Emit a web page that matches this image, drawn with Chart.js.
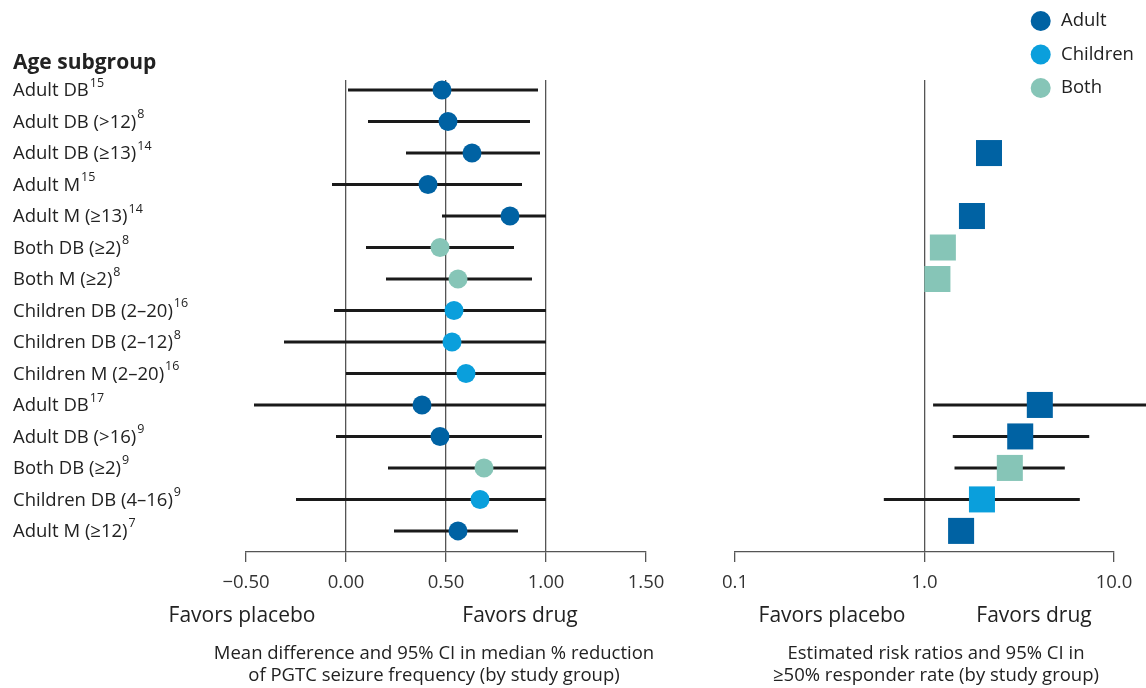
<!DOCTYPE html>
<html>
<head>
<meta charset="utf-8">
<script src="https://cdn.jsdelivr.net/npm/chart.js@4"></script>
<style>
  body { margin: 0; background: #fff; }
  #wrap { position: relative; width: 1146px; height: 688px; }
  canvas { position: absolute; top: 0; }
  #left { left: 0; }
  #right { left: 700px; }
</style>
</head>
<body>
<div id="wrap">
  <canvas id="left" width="700" height="688"></canvas>
  <canvas id="right" width="446" height="688"></canvas>
</div>
<script>
// study rows, top to bottom
const rowLabels = ['Adult DB', 'Adult DB (>12)', 'Adult DB (\u226513)', 'Adult M', 'Adult M (\u226513)',
  'Both DB (\u22652)', 'Both M (\u22652)', 'Children DB (2\u201320)', 'Children DB (2\u201312)', 'Children M (2\u201320)',
  'Adult DB', 'Adult DB (>16)', 'Both DB (\u22652)', 'Children DB (4\u201316)', 'Adult M (\u226512)'];
const rowRefs = ['15', '8', '14', '15', '14', '8', '8', '16', '8', '16', '17', '9', '9', '9', '7'];
const rowGroups = ['Adult', 'Adult', 'Adult', 'Adult', 'Adult', 'Both', 'Both', 'Children', 'Children', 'Children',
  'Adult', 'Adult', 'Both', 'Children', 'Adult'];

// mean difference in median % reduction
const mdPoint = [0.48, 0.51, 0.63, 0.41, 0.82, 0.47, 0.56, 0.54, 0.53, 0.60, 0.38, 0.47, 0.69, 0.67, 0.56];
const mdLow   = [0.01, 0.11, 0.30, -0.07, 0.48, 0.10, 0.20, -0.06, -0.31, 0.00, -0.46, -0.05, 0.21, -0.25, 0.24];
const mdHigh  = [0.96, 0.92, 0.97, 0.88, 1.00, 0.84, 0.93, 1.00, 1.00, 1.00, 1.00, 0.98, 1.00, 1.00, 0.86];
const mdTicks = [-0.5, 0, 0.5, 1, 1.5];

// risk ratio, >=50% responder rate
const rrPoint = [null, null, 2.19, null, 1.78, 1.25, 1.17, null, null, null, 4.06, 3.20, 2.82, 2.01, 1.56];
const rrLow   = [null, null, null, null, null, null, null, null, null, null, 1.11, 1.41, 1.44, 0.61, null];
const rrHigh  = [null, null, null, null, null, null, null, null, null, null, 15, 7.4, 5.5, 6.6, null];
const rrTicks = [0.1, 1, 10];

const groupNames = ['Adult', 'Children', 'Both'];
const groupColors = { Adult: '#0062a3', Children: '#0a9fdc', Both: '#86c5b7' };

Chart.defaults.font.family = '"Open Sans", sans-serif';
Chart.defaults.color = '#333';

const yScale = { type: 'linear', reverse: true, min: 0.68, max: 15.67, display: false };

function ciSets(low, high) {
  const sets = [];
  low.forEach((lo, i) => {
    if (lo === null) return;
    sets.push({
      data: [{ x: lo, y: i + 1 }, { x: high[i], y: i + 1 }],
      showLine: true, borderColor: '#1a1a1a', borderWidth: 3,
      pointRadius: 0, order: 2, clip: false
    });
  });
  return sets;
}

function textPlugin(draw) {
  return { id: 'texts', afterDraw(chart) { const c = chart.ctx; c.save(); draw(c, chart); c.restore(); } };
}

// left panel
new Chart(document.getElementById('left'), {
  type: 'scatter',
  data: {
    datasets: [{
      data: mdPoint.map((v, i) => ({ x: v, y: i + 1 })),
      backgroundColor: rowGroups.map(g => groupColors[g]),
      pointRadius: 9.5, borderWidth: 0, order: 1
    }].concat(ciSets(mdLow, mdHigh))
  },
  options: {
    responsive: false, animation: false,
    layout: { padding: { left: 246, right: 54, top: 80, bottom: 96 } },
    plugins: { legend: { display: false }, tooltip: { enabled: false } },
    scales: {
      y: yScale,
      x: {
        type: 'linear', min: -0.5, max: 1.5,
        afterBuildTicks: axis => { axis.ticks = mdTicks.map(v => ({ value: v })); },
        afterFit: axis => { axis.height = 40; },
        grid: {
          color: ctx => (ctx.tick && ctx.tick.value > -0.5 && ctx.tick.value < 1.5) ? '#555' : 'rgba(0,0,0,0)',
          tickColor: '#555', tickLength: 10, lineWidth: 1.3
        },
        border: { display: true, color: '#555', width: 1.3 },
        ticks: {
          padding: 10, font: { size: 18.5 }, color: '#333',
          callback: v => v < 0 ? '\u2212' + Math.abs(v).toFixed(2) : v.toFixed(2)
        }
      }
    }
  },
  plugins: [textPlugin((c, chart) => {
    const ys = chart.scales.y;
    c.fillStyle = '#222';
    c.textBaseline = 'middle';
    c.textAlign = 'left';
    c.font = 'bold 21px "Open Sans"';
    c.fillText('Age subgroup', 13, 63);
    rowLabels.forEach((lab, i) => {
      const y = ys.getPixelForValue(i + 1) + 1;
      c.font = '18.5px "Open Sans"';
      c.fillText(lab, 13, y);
      const w = c.measureText(lab).width;
      c.font = '12.5px "Open Sans"';
      c.fillText(rowRefs[i], 13 + w + 1, y - 8);
    });
    c.textAlign = 'center';
    c.font = '21px "Open Sans"';
    c.fillText('Favors placebo', 242, 616);
    c.fillText('Favors drug', 520, 616);
    c.font = '18.5px "Open Sans"';
    c.fillText('Mean difference and 95% CI in median % reduction', 434, 654);
    c.fillText('of PGTC seizure frequency (by study group)', 434, 676);
  })]
});

// right panel
new Chart(document.getElementById('right'), {
  type: 'scatter',
  data: {
    datasets: [{
      data: rrPoint.map((v, i) => ({ x: v, y: i + 1 })),
      backgroundColor: rowGroups.map(g => groupColors[g]),
      pointStyle: 'rect', pointRadius: 18.4, borderWidth: 0, order: 1
    }].concat(ciSets(rrLow, rrHigh))
  },
  options: {
    responsive: false, animation: false,
    layout: { padding: { left: 35, right: 32, top: 80, bottom: 96 } },
    plugins: { legend: { display: false }, tooltip: { enabled: false } },
    scales: {
      y: yScale,
      x: {
        type: 'logarithmic', min: 0.1, max: 10,
        afterBuildTicks: axis => { axis.ticks = rrTicks.map(v => ({ value: v })); },
        afterFit: axis => { axis.height = 40; },
        grid: {
          color: ctx => (ctx.tick && ctx.tick.value === 1) ? '#555' : 'rgba(0,0,0,0)',
          tickColor: '#555', tickLength: 10, lineWidth: 1.3
        },
        border: { display: true, color: '#555', width: 1.3 },
        ticks: { padding: 10, font: { size: 18.5 }, color: '#333', callback: v => Number(v).toFixed(1) }
      }
    }
  },
  plugins: [textPlugin(c => {
    c.textBaseline = 'middle';
    groupNames.forEach((g, i) => {
      const y = 21 + i * 33.5;
      c.fillStyle = groupColors[g];
      c.beginPath();
      c.arc(340.7, y, 10, 0, Math.PI * 2);
      c.fill();
      c.fillStyle = '#222';
      c.textAlign = 'left';
      c.font = '18.5px "Open Sans"';
      c.fillText(g, 361, y);
    });
    c.fillStyle = '#222';
    c.textAlign = 'center';
    c.font = '21px "Open Sans"';
    c.fillText('Favors placebo', 132, 616);
    c.fillText('Favors drug', 334, 616);
    c.font = '18.5px "Open Sans"';
    c.fillText('Estimated risk ratios and 95% CI in', 236, 654);
    c.fillText('\u226550% responder rate (by study group)', 236, 676);
  })]
});
</script>
</body>
</html>
